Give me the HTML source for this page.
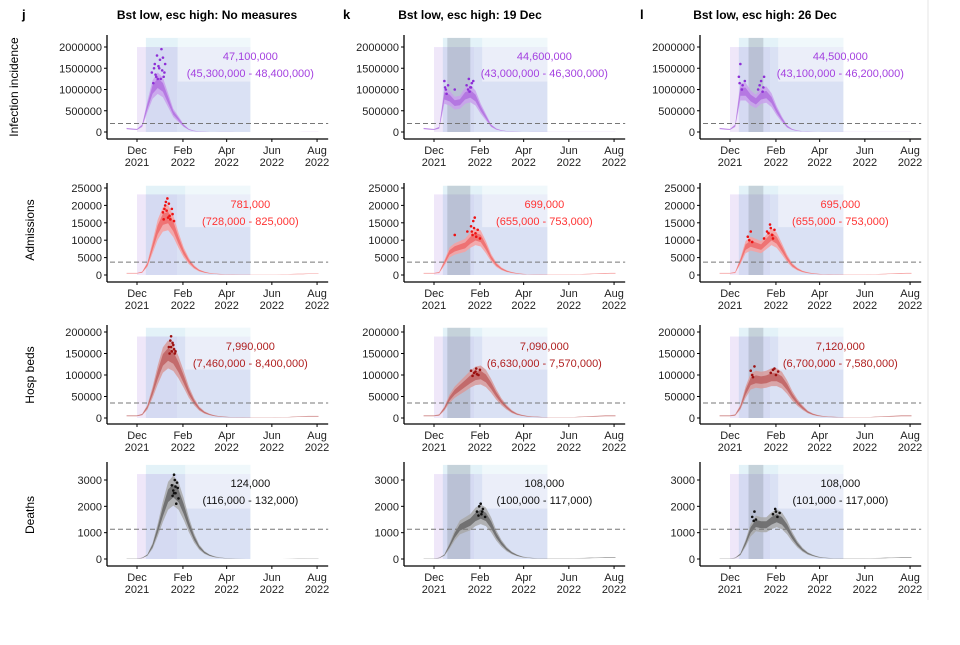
<!DOCTYPE html>
<html><head><meta charset="utf-8"><style>
body{margin:0;background:#fff;}
svg text{font-family:"Liberation Sans",Arial,sans-serif;}
</style></head><body>
<svg id="c" width="960" height="640" viewBox="0 0 960 640" xmlns="http://www.w3.org/2000/svg"></svg>
<script>
const days = [-14,-7,0,7,14,21,28,35,42,49,56,63,70,77,84,91,98,105,112,119,126,133,140,147,154,161,168,175,182,189,196,203,210,217,224,231,238,245];
const xTickDays = [0,62,121,182,243];
const xTickMonths = ["Dec","Feb","Apr","Jun","Aug"];
const xTickYears = ["2021","2022","2022","2022","2022"];
const columnTitles = ["Bst low, esc high: No measures","Bst low, esc high: 19 Dec","Bst low, esc high: 26 Dec"];
const columnLetters = ["j","k","l"];
const rowTitles = ["Infection incidence","Admissions","Hosp beds","Deaths"];
const yTicksInf = [0,500000,1000000,1500000,2000000];
const yTicksAdm = [0,5000,10000,15000,20000,25000];
const yTicksBeds = [0,50000,100000,150000,200000];
const yTicksDeaths = [0,1000,2000,3000];
const thresholds = [200000,3700,35000,1130];
const measureStart = [null,18,25];
const measureEnd = [null,49,45];
const infJ = [80,70,60,150,600,1000,1150,1050,750,450,300,150,60,25,12,8,6,5,4,3,3,2,2,2,2,2,2,2,2,2,2,2,2,2,3,3,3,3].map(v=>v*1000);
const infK = [80,70,60,100,850,800,680,700,850,900,800,550,350,150,70,35,20,12,8,6,5,4,4,3,3,3,3,3,3,3,3,3,3,3,4,4,4,4].map(v=>v*1000);
const infL = [80,70,60,150,950,950,800,720,850,880,750,500,300,130,60,30,18,10,7,5,4,4,3,3,3,3,3,3,3,3,3,3,3,3,4,4,4,4].map(v=>v*1000);
const admJ = [500,500,500,800,3000,8000,13000,16000,16500,14000,10000,6500,4000,2300,1300,800,500,350,250,200,150,120,100,100,100,100,100,100,100,100,150,200,250,300,300,350,350,350];
const admK = [500,500,500,700,3500,6500,7500,8000,8500,10000,11000,10500,8000,5000,3000,1800,1100,700,450,300,220,180,150,130,120,120,120,120,120,150,200,250,300,350,400,450,500,500];
const admL = [500,500,500,700,4000,8000,9000,8500,8000,9500,11000,10000,7500,4800,2800,1700,1000,650,420,280,200,170,150,130,120,120,120,120,120,150,200,250,300,350,400,450,500,500];
const bedsJ = [5000,5000,5000,8000,25000,60000,100000,135000,148000,140000,118000,90000,60000,38000,22000,13000,8000,5000,3500,2500,2000,1500,1200,1000,1000,1000,1000,1000,1000,1200,1500,2000,2500,3000,3500,4000,4000,4000];
const bedsK = [5000,5000,5000,7000,22000,45000,60000,70000,80000,90000,98000,100000,92000,75000,55000,38000,25000,15000,9000,6000,4000,3000,2500,2000,1800,1800,1800,1800,1800,2000,2500,3000,3500,4000,4500,5000,5000,5000];
const bedsL = [5000,5000,5000,7000,25000,60000,85000,90000,88000,90000,95000,95000,88000,72000,52000,36000,24000,14000,8500,5500,3800,2800,2300,2000,1800,1800,1800,1800,1800,2000,2500,3000,3500,4000,4500,5000,5000,5000];
const deathsJ = [20,20,20,40,150,500,1100,1800,2400,2600,2400,1900,1300,800,450,250,140,80,50,30,20,15,12,10,10,10,10,10,10,10,10,12,15,18,20,22,22,22];
const deathsK = [20,20,20,40,150,500,900,1200,1300,1400,1600,1700,1600,1300,900,600,380,230,140,80,50,35,25,20,18,18,18,18,20,25,30,35,40,45,50,55,55,55];
const deathsL = [20,20,20,40,180,600,1100,1350,1300,1300,1450,1550,1450,1200,850,560,350,210,130,75,48,34,25,20,18,18,18,18,20,25,30,35,40,45,50,55,55,55];
const ptsInfJ = [[20,1400000],[24,1600000],[27,1800000],[30,1500000],[33,1950000],[36,1300000],[28,1250000],[22,1150000],[38,1600000],[31,1700000],[25,1350000],[34,1450000],[29,1550000],[26,1300000],[32,1250000],[37,1400000],[23,1500000],[35,1750000]];
const ptsInfK = [[14,1200000],[16,1000000],[19,1100000],[28,1000000],[44,1100000],[47,1250000],[50,1050000],[53,1200000],[48,950000],[15,1050000],[46,1000000],[51,1150000],[17,900000],[49,1050000]];
const ptsInfL = [[12,1300000],[14,1600000],[17,1100000],[20,1200000],[38,1000000],[42,1200000],[46,1300000],[44,950000],[13,1150000],[16,1000000],[40,1100000],[45,1050000]];
const ptsAdmJ = [[35,18000],[38,20000],[41,22000],[44,17000],[47,19000],[50,15500],[42,16500],[39,21000],[36,16000],[40,18500],[43,20500],[45,16000],[48,17500],[37,19000]];
const ptsAdmK = [[28,11500],[45,12500],[50,14000],[53,15500],[56,12000],[59,13000],[62,10500],[55,16500],[51,12500],[54,13500],[57,11000],[52,11500]];
const ptsAdmL = [[24,11000],[28,12500],[30,9500],[50,12500],[54,14500],[57,11500],[60,13000],[46,10500],[26,10000],[52,12000],[55,13500],[58,10500]];
const ptsBedsJ = [[43,165000],[45,180000],[47,155000],[49,170000],[51,150000],[46,190000],[50,160000],[44,150000],[48,175000],[52,155000],[46,165000]];
const ptsBedsK = [[50,110000],[54,105000],[57,115000],[60,100000],[62,112000],[52,98000],[56,108000],[58,102000]];
const ptsBedsL = [[28,110000],[30,100000],[33,120000],[55,105000],[58,112000],[62,100000],[65,108000],[31,95000],[60,115000]];
const ptsDeathsJ = [[47,2800],[50,3200],[52,2500],[54,2900],[56,2300],[49,2600],[53,2100],[51,3000],[48,2400],[55,2700],[50,2500],[52,2750]];
const ptsDeathsK = [[58,1800],[61,2000],[64,1700],[66,1900],[69,1600],[63,2100],[60,1650],[65,1800]];
const ptsDeathsL = [[30,1600],[33,1800],[35,1500],[58,1700],[61,1900],[64,1600],[67,1750],[32,1450],[62,1800]];
const totals = [["47,100,000","44,600,000","44,500,000"],["781,000","699,000","695,000"],["7,990,000","7,090,000","7,120,000"],["124,000","108,000","108,000"]];
const ranges = [["(45,300,000 - 48,400,000)","(43,000,000 - 46,300,000)","(43,100,000 - 46,200,000)"],["(728,000 - 825,000)","(655,000 - 753,000)","(655,000 - 753,000)"],["(7,460,000 - 8,400,000)","(6,630,000 - 7,570,000)","(6,700,000 - 7,580,000)"],["(116,000 - 132,000)","(100,000 - 117,000)","(101,000 - 117,000)"]];

const series = [[infJ,infK,infL],[admJ,admK,admL],[bedsJ,bedsK,bedsL],[deathsJ,deathsK,deathsL]];
const points = [[ptsInfJ,ptsInfK,ptsInfL],[ptsAdmJ,ptsAdmK,ptsAdmL],[ptsBedsJ,ptsBedsK,ptsBedsL],[ptsDeathsJ,ptsDeathsK,ptsDeathsL]];
const yTicks = [yTicksInf,yTicksAdm,yTicksBeds,yTicksDeaths];
const yMax = [2000000,25000,200000,3000];
const colors = [{band:"#c9a0ec",inner:"#ad68de",pt:"#8e2fd6",txt:"#a440e0"},{band:"#f7a0a0",inner:"#ee6262",pt:"#ee1111",txt:"#ff3333"},{band:"#d89a9a",inner:"#bc5858",pt:"#9c1010",txt:"#b02020"},{band:"#a8a8a8",inner:"#5e5e5e",pt:"#111111",txt:"#111111"}];
const axisLeft = [107,404,700];
const xDec = [137,434,730];
const rowTop = [35,183,325,462];
const rowZero = [132,275,418,559];
const rowMaxY = [47,188,332,480];
const rowAxis = [139,282,424,566];
const PXD = 0.741;

const NS = "http://www.w3.org/2000/svg";
const svg = document.getElementById('c');
function mk(tag, attrs, parent){const e=document.createElementNS(NS,tag);for(const k in attrs)e.setAttribute(k,attrs[k]);(parent||svg).appendChild(e);return e;}
function txt(s, attrs, parent){const e=mk('text',attrs,parent);e.textContent=s;return e;}

mk('rect',{x:0,y:0,width:960,height:640,fill:'#fff'});
mk('line',{x1:928,y1:0,x2:928,y2:600,stroke:'#e4e4e4','stroke-width':1});

for(let c=0;c<3;c++){
  const l = txt(columnLetters[c],{x:[22,343,640][c],y:19,'font-size':13,'font-weight':'bold',fill:'#000'});
  
  
  const t = txt(columnTitles[c],{x:[207,470,765][c],y:19,'font-size':12,'font-weight':'bold','text-anchor':'middle',fill:'#000'});
  
  
}
const rowTitleX=[14,30,30,30], rowTitleY=[87,230,375,515];
for(let r=0;r<4;r++){
  const t = txt(rowTitles[r],{x:0,y:0,'font-size':12,'text-anchor':'middle',fill:'#000',transform:`translate(${rowTitleX[r]+4},${rowTitleY[r]}) rotate(-90)`});
  
  
}

for(let r=0;r<4;r++){
  for(let c=0;c<3;c++){
    const g = mk('g',{});
    
    
    const X = d => xDec[c] + d*PXD;
    const Y = v => rowZero[r] - v/yMax[r]*(rowZero[r]-rowMaxY[r]);
    const H = rowZero[r]-rowTop[r];
    const purpleTop = rowZero[r]-0.876*H, blueTop = rowZero[r]-0.97*H;
    const pr = mk('rect',{x:X(0),y:purpleTop,width:X(54)-X(0),height:rowZero[r]-purpleTop,fill:'rgba(215,195,240,0.4)'},g);
    
    
    const br = mk('rect',{x:X(12),y:blueTop,width:X(153)-X(12),height:rowZero[r]-blueTop,fill:'rgba(200,230,242,0.5)'},g);
    
    
    const lr = mk('rect',{x:X(12),y:purpleTop,width:X(153)-X(12),height:rowZero[r]-purpleTop,fill:'rgba(205,200,238,0.4)'},g);
    
    
    if(measureStart[c]!==null){
      const mr = mk('rect',{x:X(measureStart[c]),y:blueTop,width:X(measureEnd[c])-X(measureStart[c]),height:rowZero[r]-blueTop,fill:'rgba(120,130,140,0.28)'},g);
      
      
    }
    const bs = (r===0&&c===0)?55:65;
    const lb = mk('rect',{x:X(bs),y:blueTop,width:X(153)-X(bs),height:0.45*H,fill:'rgba(255,255,255,0.45)'},g);
    
    
    const vals = series[r][c];
    const band = (f)=>{let up=vals.map((v,i)=>`${X(days[i]).toFixed(1)},${Y(v*(1+f)).toFixed(1)}`);let lo=vals.map((v,i)=>`${X(days[i]).toFixed(1)},${Y(v*(1-f)).toFixed(1)}`).reverse();return 'M'+up.join('L')+'L'+lo.join('L')+'Z';};
    const o = mk('path',{d:band(0.22),fill:colors[r].band,opacity:0.85},g);
    
    
    const inn = mk('path',{d:band(0.1),fill:colors[r].inner,opacity:0.75},g);
    
    
    for(const p of points[r][c]){
      const pt = mk('circle',{cx:X(p[0]),cy:Y(p[1]),r:1.3,fill:colors[r].pt},g);
      
      
    }
    const th = mk('line',{x1:axisLeft[c]+3,x2:X(258),y1:Y(thresholds[r]),y2:Y(thresholds[r]),stroke:'#777','stroke-width':1,'stroke-dasharray':'5,3'},g);
    
    
    const ya = mk('line',{x1:axisLeft[c],x2:axisLeft[c],y1:rowTop[r],y2:rowAxis[r],stroke:'#000','stroke-width':1.3},g);
    
    
    const xa = mk('line',{x1:axisLeft[c],x2:X(258),y1:rowAxis[r],y2:rowAxis[r],stroke:'#000','stroke-width':1.3},g);
    
    
    for(const tv of yTicks[r]){
      mk('line',{x1:axisLeft[c]-3,x2:axisLeft[c],y1:Y(tv),y2:Y(tv),stroke:'#000'},g);
      const tl = txt(String(tv),{x:axisLeft[c]-5,y:Y(tv)+4,'font-size':11,'text-anchor':'end',fill:'#222'},g);
      
      
    }
    xTickDays.forEach((d,i)=>{
      mk('line',{x1:X(d),x2:X(d),y1:rowAxis[r],y2:rowAxis[r]+3,stroke:'#000'},g);
      const m = txt(xTickMonths[i],{x:X(d),y:rowAxis[r]+15,'font-size':11,'text-anchor':'middle',fill:'#222'},g);
      
      
      const yv = txt(xTickYears[i],{x:X(d),y:rowAxis[r]+27,'font-size':11,'text-anchor':'middle',fill:'#222'},g);
      
      
    });
    const cx = X(153)+ (c===0?0:-3);
    const t1 = txt(totals[r][c],{x:cx,y:rowTop[r]+25,'font-size':11,'text-anchor':'middle',fill:colors[r].txt},g);
    
    
    const t2 = txt(ranges[r][c],{x:cx,y:rowTop[r]+42,'font-size':11,'text-anchor':'middle',fill:colors[r].txt},g);
    
    
  }
}
</script>
</body></html>
